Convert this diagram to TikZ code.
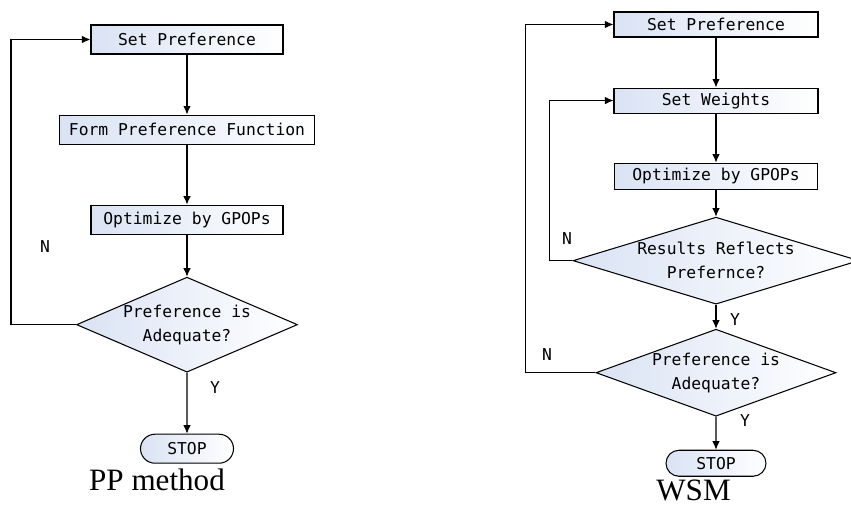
\documentclass[tikz,border=0pt]{standalone}
\usepackage{fontspec}
\setmainfont{Liberation Serif}
\newfontfamily\chartfont{DejaVu Sans Mono}
\usetikzlibrary{
  arrows.meta,
  positioning,
  shapes.geometric,
  shapes.misc
}
\definecolor{boxblue}{RGB}{218,227,244}
\tikzset{
  chartbase/.style={
    draw,
    line width=0.6pt,
    left color=boxblue,
    right color=white,
    inner sep=0pt,
    align=center,
    font=\chartfont\fontsize{9.3}{13.7}\selectfont
  },
  stepbox/.style={chartbase,minimum height=5.8mm},
  decision/.style={chartbase,diamond},
  stopbox/.style={chartbase,rounded rectangle,minimum height=5.8mm},
  flowarrow/.style={-{Latex[length=1.7mm,width=1.5mm]},line width=0.6pt},
  answer/.style={font=\chartfont\fontsize{9.3}{11}\selectfont},
  caption/.style={font=\fontsize{17.7}{20}\selectfont}
}

\begin{document}
\begin{tikzpicture}
  \useasboundingbox (0,0) rectangle (17.02,-10.14);

  % PP method
  \node[stepbox,minimum width=38.4mm] (setL) at (3.74,-0.79) {Set Preference};
  \node[stepbox,minimum width=51mm,below=12mm of setL] (formL) {Form Preference Function};
  \node[stepbox,minimum width=38.4mm,below=12mm of formL] (optL) {Optimize by GPOPs};
  \node[decision,aspect=2.33,minimum width=44.2mm,minimum height=19mm,below=8.4mm of optL] (adeqL) {Preference is\\Adequate?};
  \node[stopbox,minimum width=18.6mm,below=12.2mm of adeqL] (stopL) {STOP};
  \node[caption] (capL) at (3.14,-9.6) {PP method};

  \draw[flowarrow] (setL) -- (formL);
  \draw[flowarrow] (formL) -- (optL);
  \draw[flowarrow] (optL) -- (adeqL);
  \draw[flowarrow] (adeqL) -- (stopL);
  \draw[flowarrow] (adeqL.west) -- ++(-1.3,0) |- (setL.west);
  \node[answer] (noL) at (0.9,-4.94) {N};
  \node[answer] (yesL) at (4.3,-7.76) {Y};

  % WSM
  \node[stepbox,minimum width=40.8mm,minimum height=5mm] (setR) at (14.32,-0.49) {Set Preference};
  \node[stepbox,minimum width=40.8mm,minimum height=5mm,below=10mm of setR] (wtR) {Set Weights};
  \node[stepbox,minimum width=40.6mm,minimum height=5.2mm,below=9.8mm of wtR] (optR) {Optimize by GPOPs};
  \node[decision,aspect=3.29,minimum width=57.2mm,minimum height=17.4mm,below=5.4mm of optR] (reflR) {Results Reflects\\Prefernce?};
  \node[decision,aspect=2.76,minimum width=48mm,minimum height=17.4mm,below=4.8mm of reflR] (adeqR) {Preference is\\Adequate?};
  \node[stopbox,minimum width=20mm,minimum height=5.2mm,below=6.6mm of adeqR] (stopR) {STOP};
  \node[caption] (capR) at (13.87,-9.8) {WSM};

  \draw[flowarrow] (setR) -- (wtR);
  \draw[flowarrow] (wtR) -- (optR);
  \draw[flowarrow] (optR) -- (reflR);
  \draw[flowarrow] (reflR) -- (adeqR);
  \draw[flowarrow] (adeqR) -- (stopR);
  \draw[flowarrow] (reflR.west) -- ++(-0.46,0) |- (wtR.west);
  \draw[flowarrow] (adeqR.west) -- ++(-1.4,0) |- (setR.west);
  \node[answer] (noR1) at (11.34,-4.78) {N};
  \node[answer] (yesR1) at (14.7,-6.4) {Y};
  \node[answer] (noR2) at (10.94,-7.1) {N};
  \node[answer] (yesR2) at (14.9,-8.42) {Y};
\end{tikzpicture}
\end{document}
